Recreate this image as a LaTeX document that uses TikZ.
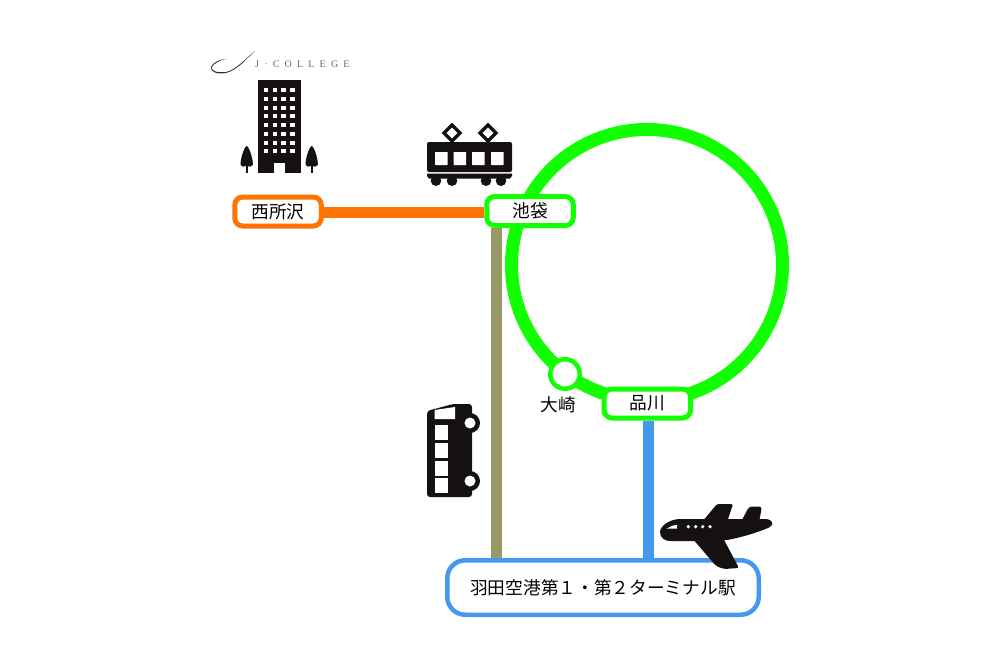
\documentclass[tikz,border=0pt]{standalone}
\usepackage{fontspec}
\usepackage{xcolor}
\usetikzlibrary{backgrounds}
\setmainfont{Noto Sans CJK JP}
\newfontfamily\logofont[LetterSpace=52]{Liberation Serif}
\definecolor{loopgreen}{HTML}{11FF00}
\definecolor{lineorange}{HTML}{FF7300}
\definecolor{lineolive}{HTML}{999966}
\definecolor{lineblue}{HTML}{4499EE}
\definecolor{iconblack}{HTML}{151111}
\tikzset{
  station/.style={draw,fill=white,line width=5pt,rounded corners=8pt,minimum width=86.5pt,minimum height=29pt,inner sep=0pt,font=\fontsize{17.7pt}{20pt}\selectfont},
  track/.style={line width=11pt},
  icon/.style={fill=iconblack},
  hole/.style={fill=white}
}

\begin{document}
\begin{tikzpicture}[x=1pt,y=-1pt]
  \useasboundingbox (0,0) rectangle (1000,667);

  \node[circle,draw=loopgreen,line width=13pt,minimum size=271pt,inner sep=0pt] (loopline) at (647,265) {};

  \node[station,draw=lineorange] (nishitokorozawa) at (278,211.5) {西所沢};
  \node[station,draw=loopgreen] (ikebukuro) at (530,211) {池袋};
  \node[station,draw=loopgreen] (shinagawa) at (647.3,403.5) {品川};
  \node[station,draw=lineblue,line width=4.5pt,rounded corners=18pt,minimum width=311.5pt,minimum height=54.5pt] (haneda) at (603,587.5) {羽田空港第１・第２ターミナル駅};
  \node[circle,draw=loopgreen,fill=white,line width=4.5pt,minimum size=29.5pt,inner sep=0pt] (osaki) at (565,374) {};
  \node[font=\fontsize{17.7pt}{20pt}\selectfont,inner sep=0pt] (osakilabel) at (558,405) {大崎};

  % lines between stations
  \begin{pgfonlayer}{background}
  \draw[track,lineorange] ([yshift=-1pt]nishitokorozawa.east) -- ([yshift=-1.5pt]ikebukuro.west);
  \draw[track,lineolive] (ikebukuro.south -| 496.7,0) -- (haneda.north -| 496.7,0);
  \draw[track,lineblue] (shinagawa.south -| 648.5,0) -- (haneda.north -| 648.5,0);
  \end{pgfonlayer}

  % logo
  \node[font=\logofont\fontsize{10pt}{10pt}\selectfont,text=black!60,inner sep=0pt,anchor=west] (logo) at (255,64.5) {J·COLLEGE};
  \path[fill=black!80] (255,51) .. controls (247,58) and (238,70) .. (226,73)
    .. controls (216,75) and (210,71) .. (211,67) .. controls (212,63) and (220,59) .. (226,59)
    .. controls (220,60) and (213,64) .. (212,67) .. controls (211,71) and (217,73) .. (226,72)
    .. controls (236,70) and (246,58) .. (255,51) -- cycle;

  % school building
  \path[icon] (258,80) rectangle (301,173);
  \foreach \row in {0,...,7}
    \foreach \col in {0,...,3}
      \path[hole] (263.8+8.7*\col,88+8.75*\row) rectangle ++(4.6,4);
  \path[hole] (274,163) rectangle (285,173.5);
  % trees
  \foreach \treex in {246.7,311.7} {
    \path[icon] (\treex,146) .. controls (\treex+3,147) and (\treex+7,162) .. (\treex+6,165) .. controls (\treex+5,167) and (\treex+3,167) .. (\treex,166) .. controls (\treex-3,167) and (\treex-5,167) .. (\treex-6,165) .. controls (\treex-7,162) and (\treex-3,147) .. (\treex,146) -- cycle;
    \path[icon] (\treex-1,160) rectangle (\treex+1,173);
  }

  % train
  \path[icon,rounded corners=2pt] (427,142) rectangle (512,172);
  \path[icon] (427,173.5) -- (512,173.5) -- (512,176) -- (510,178.5) -- (429,178.5) -- (427,176) -- cycle;
  \foreach \wheelx in {436,452,486,501}
    \path[icon] (\wheelx,180.7) circle (5.3);
  \foreach \winx in {435,453.5,472,491}
    \path[hole,rounded corners=.5pt] (\winx,152) rectangle ++(12.7,13);
  \foreach \pantox in {452,488} {
    \draw[iconblack,line width=3.5pt,line join=miter] (\pantox,125) -- (\pantox+8,133) -- (\pantox,141) -- (\pantox-8,133) -- cycle;
  }

  % bus
  \path[icon] (470,423) circle (10);
  \path[icon] (470,481) circle (10);
  \path[icon,rounded corners=3pt] (427,411) -- (453,404) -- (472,404) -- (472,497) -- (427,497) -- cycle;
  \path[hole] (434.5,410) -- (455,407) -- (455,419) -- (434.5,419) -- cycle;
  \foreach \winy in {425,443.3,461,478.3}
    \path[hole] (434.5,\winy) rectangle ++(13.5,14.5);
  \path[hole] (470,423) circle (5.5);
  \path[hole] (470,481) circle (5.5);

  % plane
  \path[icon,rounded corners=1.5pt] (702,522) -- (717,504) -- (733,504) -- (727,522) -- cycle;
  \path[icon,rounded corners=3pt] (741,522) -- (749,506.5) -- (762,506.5) -- (759,522) -- cycle;
  \path[icon,rounded corners=2pt] (692,538) -- (716,566) -- (724,569) -- (739,568) -- (723,538) -- cycle;
  \path[icon] (660,532) .. controls (660,526) and (670,519) .. (680,519)
    -- (766,519) .. controls (773,520) and (774,524) .. (770,527)
    .. controls (762,531) and (738,539) .. (720,541)
    -- (670,541) .. controls (664,541) and (660,537) .. (660,532) -- cycle;
  \path[hole] (666.7,528.5) -- (673,525.5) -- (677,525) -- (677,528.5) -- cycle;
  \foreach \dotx in {688.3,695.7,702.7,710}
    \path[hole] (\dotx,526.7) circle (1.8);
\end{tikzpicture}
\end{document}
